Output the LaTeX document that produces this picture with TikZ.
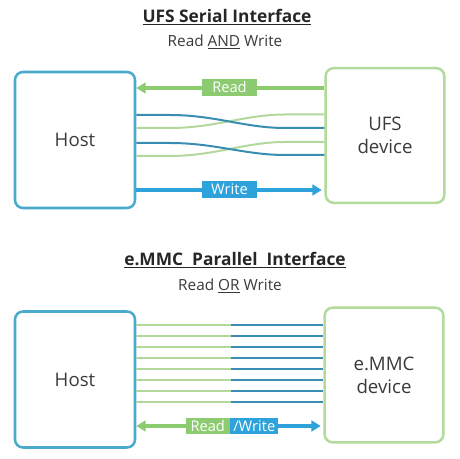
\documentclass[tikz,border=0pt]{standalone}
\usepackage{fontspec}
\setmainfont{Open Sans}
\usetikzlibrary{arrows.meta}
\definecolor{hostblue}{HTML}{4AAACC}
\definecolor{devgreen}{HTML}{B2DA9A}
\definecolor{rdgreen}{HTML}{8DCB70}
\definecolor{wrblue}{HTML}{2EA2DA}
\definecolor{lnblue}{HTML}{3A8DB2}
\definecolor{lngreen}{HTML}{B2D89C}
\definecolor{txt}{HTML}{3A3A3A}
\begin{document}
\begin{tikzpicture}[x=0.75pt,y=-0.75pt,
  hostbox/.style={draw=hostblue,line width=1.9pt,rounded corners=6pt,minimum width=90pt,minimum height=102pt,font=\fontsize{14}{17}\selectfont,text=txt,align=center},
  devbox/.style={draw=devgreen,line width=1.9pt,rounded corners=6pt,minimum width=89pt,minimum height=101pt,font=\fontsize{14}{17}\selectfont,text=txt,align=center},
  lbl/.style={text=white,inner sep=0pt,minimum height=12.5pt,font=\fontsize{11}{12}\selectfont},
  title/.style={text=black!85,font=\bfseries\fontsize{13}{15}\selectfont},
  subtitle/.style={text=txt,font=\fontsize{11.5}{13}\selectfont},
  bigarrow/.style={line width=2.6pt},
  wire/.style={line width=1.5pt},
  tip/.style={-{Triangle[length=7pt,width=8pt]}}
]
\useasboundingbox (0,0) rectangle (460,459);

% ---------- UFS ----------
\node[title] (t1) at (227,17) {\underline{UFS Serial Interface}};
\node[subtitle] (s1) at (225,42) {Read \underline{AND} Write};
\node[hostbox] (h1) at (75,140) {Host};
\node[devbox] (d1) at (385,135.5) {UFS\\device};

\draw[bigarrow,rdgreen,tip] (d1.west |- 0,88) coordinate (r1a) -- (h1.east |- 0,88) coordinate (r1b);
\node[lbl,fill=rdgreen,minimum width=41pt] (rl1) at (229.5,87.5) {Read};
\draw[bigarrow,wrblue,tip] (h1.east |- 0,190) coordinate (w1a) -- ([xshift=-2pt]d1.west |- 0,190) coordinate (w1b);
\node[lbl,fill=wrblue,minimum width=41pt] (wl1) at (229.5,189.5) {Write};

\draw[wire,lngreen] (h1.east |- 0,128) -- (170,128) .. controls (215,128) and (245,114.5) .. (285,114.5) -- (d1.west |- 0,114.5);
\draw[wire,lnblue] (h1.east |- 0,115) -- (170,115) .. controls (215,115) and (245,128) .. (285,128) -- (d1.west |- 0,128);
\draw[wire,lngreen] (h1.east |- 0,156) -- (170,156) .. controls (215,156) and (245,142) .. (285,142) -- (d1.west |- 0,142);
\draw[wire,lnblue] (h1.east |- 0,143) -- (170,143) .. controls (215,143) and (245,155) .. (285,155) -- (d1.west |- 0,155);

% ---------- e.MMC ----------
\node[title] (t2) at (235,260) {\underline{e.MMC\ \ Parallel\ \ Interface}};
\node[subtitle] (s2) at (230,286) {Read \underline{OR} Write};
\node[hostbox] (h2) at (75,379.5) {Host};
\node[devbox] (d2) at (384,375) {e.MMC\\device};

\coordinate (mid) at (231,0);
\foreach \i in {0,...,7}{
  \pgfmathsetmacro{\yy}{325+\i*11.05}
  \draw[wire,lngreen] (h2.east |- 0,\yy) -- (mid |- 0,\yy);
  \draw[wire,lnblue] (mid |- 0,\yy) -- (d2.west |- 0,\yy);
}
\draw[bigarrow,rdgreen,tip] (mid |- 0,426) -- (h2.east |- 0,426);
\draw[bigarrow,wrblue,tip] (mid |- 0,426) -- ([xshift=-2pt]d2.west |- 0,426);
\node[lbl,fill=rdgreen,minimum width=33pt,anchor=east] (rl2) at (230,426) {Read};
\node[lbl,fill=wrblue,minimum width=36pt,anchor=west] (wl2) at (230,426) {/Write};
\end{tikzpicture}
\end{document}
